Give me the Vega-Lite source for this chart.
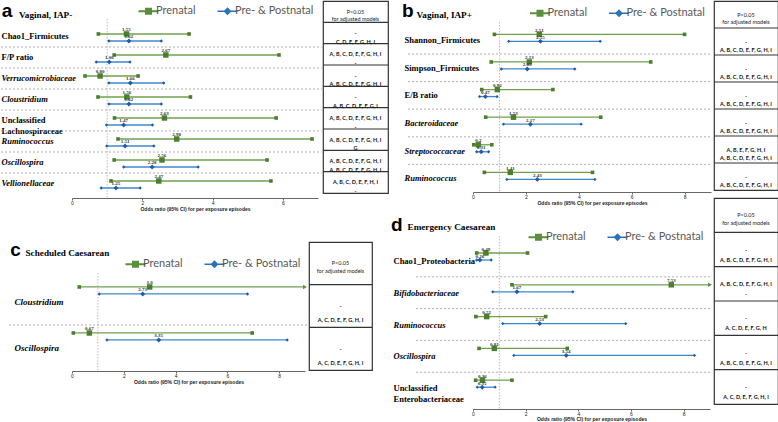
{
"$schema": "https://vega.github.io/schema/vega-lite/v6.json",
"padding": {"left": 0, "top": 0, "right": 0, "bottom": 0},
"config": {
  "view": {"stroke": null},
  "axisX": {"format": "~g", "labelFont": "Liberation Sans", "labelFontSize": 5, "labelColor": "#222", "labelPadding": 0, "labelOverlap": false, "labelFlush": false, "tickSize": 2, "tickColor": "#666", "domainColor": "#666", "grid": false, "titleFont": "Liberation Sans", "titleFontSize": 5, "titleFontWeight": "bold", "titleColor": "#222", "titlePadding": 1.5},
  "axisY": {"domain": false, "ticks": false, "tickSize": 0, "grid": false, "labelAlign": "left", "labelBaseline": "middle", "labelFont": "Liberation Serif", "labelFontSize": 8.5, "labelFontWeight": "bold", "labelColor": "#000", "labelLineHeight": 11, "labelLimit": 200, "titleAngle": 0, "titleAlign": "left", "titleBaseline": "alphabetic", "titleFont": "Liberation Serif", "titleFontSize": 9.2, "titleFontWeight": "bold", "titleColor": "#000"},
  "legend": {"orient": "none", "direction": "horizontal", "symbolSize": 100, "symbolOpacity": 1, "symbolStrokeWidth": 0, "labelFont": "Lato", "labelFontSize": 11, "labelColor": "#595959", "labelOffset": 2, "columnPadding": 21, "padding": 0}
},
"datasets": {
  "a": [
    {"cat": "Chao1_Firmicutes", "series": "Prenatal", "low": 0.75, "est": 1.55, "high": 3.33, "lab": "1.55"},
    {"cat": "Chao1_Firmicutes", "series": "Pre- & Postnatal", "low": 1.05, "est": 1.62, "high": 2.54, "lab": "1.62"},
    {"cat": "F/P ratio", "series": "Prenatal", "low": 1.2, "est": 2.67, "high": 5.89, "lab": "2.67"},
    {"cat": "F/P ratio", "series": "Pre- & Postnatal", "low": 0.69, "est": 1.06, "high": 1.65, "lab": "1.06"},
    {"cat": "Verrucomicrobiaceae", "series": "Prenatal", "low": 0.37, "est": 0.8, "high": 1.88, "lab": "0.80"},
    {"cat": "Verrucomicrobiaceae", "series": "Pre- & Postnatal", "low": 1.05, "est": 1.66, "high": 2.61, "lab": "1.66"},
    {"cat": "Cloustridium", "series": "Prenatal", "low": 0.74, "est": 1.56, "high": 3.37, "lab": "1.56"},
    {"cat": "Cloustridium", "series": "Pre- & Postnatal", "low": 1.05, "est": 1.62, "high": 2.54, "lab": "1.62"},
    {"cat": "Unclassified|Lachnospiraceae", "series": "Prenatal", "low": 1.21, "est": 2.63, "high": 5.81, "lab": "2.63"},
    {"cat": "Unclassified|Lachnospiraceae", "series": "Pre- & Postnatal", "low": 0.98, "est": 1.47, "high": 2.29, "lab": "1.47"},
    {"cat": "Ruminococcus", "series": "Prenatal", "low": 1.31, "est": 2.98, "high": 6.83, "lab": "2.98"},
    {"cat": "Ruminococcus", "series": "Pre- & Postnatal", "low": 0.99, "est": 1.51, "high": 2.33, "lab": "1.51"},
    {"cat": "Oscillospira", "series": "Prenatal", "low": 1.2, "est": 2.56, "high": 5.55, "lab": "2.56"},
    {"cat": "Oscillospira", "series": "Pre- & Postnatal", "low": 1.47, "est": 2.28, "high": 3.59, "lab": "2.28"},
    {"cat": "Vellionellaceae", "series": "Prenatal", "low": 1.11, "est": 2.47, "high": 5.66, "lab": "2.47"},
    {"cat": "Vellionellaceae", "series": "Pre- & Postnatal", "low": 0.83, "est": 1.25, "high": 1.94, "lab": "1.25"}
  ],
  "b": [
    {"cat": "Shannon_Firmicutes", "series": "Prenatal", "low": 0.81, "est": 2.51, "high": 8.0, "lab": "2.51"},
    {"cat": "Shannon_Firmicutes", "series": "Pre- & Postnatal", "low": 1.35, "est": 2.55, "high": 4.81, "lab": "2.55"},
    {"cat": "Simpson_Firmicutes", "series": "Prenatal", "low": 0.69, "est": 2.13, "high": 6.72, "lab": "2.13"},
    {"cat": "Simpson_Firmicutes", "series": "Pre- & Postnatal", "low": 1.07, "est": 2.05, "high": 3.85, "lab": "2.05"},
    {"cat": "E/B ratio", "series": "Prenatal", "low": 0.33, "est": 0.92, "high": 3.02, "lab": "0.92"},
    {"cat": "E/B ratio", "series": "Pre- & Postnatal", "low": 0.25, "est": 0.47, "high": 0.91, "lab": "0.47"},
    {"cat": "Bacteroidaceae", "series": "Prenatal", "low": 0.48, "est": 1.53, "high": 4.83, "lab": "1.53"},
    {"cat": "Bacteroidaceae", "series": "Pre- & Postnatal", "low": 1.15, "est": 2.17, "high": 4.09, "lab": "2.17"},
    {"cat": "Streptococcaceae", "series": "Prenatal", "low": 0.03, "est": 0.2, "high": 0.71, "lab": "0.2"},
    {"cat": "Streptococcaceae", "series": "Pre- & Postnatal", "low": 0.14, "est": 0.31, "high": 0.59, "lab": "0.31"},
    {"cat": "Ruminococcus", "series": "Prenatal", "low": 0.43, "est": 1.41, "high": 4.52, "lab": "1.41"},
    {"cat": "Ruminococcus", "series": "Pre- & Postnatal", "low": 1.28, "est": 2.43, "high": 4.61, "lab": "2.43"}
  ],
  "c": [
    {"cat": "Cloustridium", "series": "Prenatal", "low": 0.28, "est": 3.0, "high": 9.0, "lab": "3.0", "arrow": true},
    {"cat": "Cloustridium", "series": "Pre- & Postnatal", "low": 1.05, "est": 2.73, "high": 6.78, "lab": "2.73"},
    {"cat": "Oscillospira", "series": "Prenatal", "low": 0.05, "est": 0.67, "high": 6.96, "lab": "0.67"},
    {"cat": "Oscillospira", "series": "Pre- & Postnatal", "low": 1.35, "est": 3.35, "high": 8.31, "lab": "3.35"}
  ],
  "d": [
    {"cat": "Chao1_Proteobacteria", "series": "Prenatal", "low": 0.14, "est": 0.49, "high": 2.07, "lab": "0.49"},
    {"cat": "Chao1_Proteobacteria", "series": "Pre- & Postnatal", "low": 0.14, "est": 0.26, "high": 0.69, "lab": "0.26"},
    {"cat": "Bifidobacteriaceae", "series": "Prenatal", "low": 1.48, "est": 7.53, "high": 9.0, "lab": "7.53", "arrow": true},
    {"cat": "Bifidobacteriaceae", "series": "Pre- & Postnatal", "low": 0.75, "est": 1.67, "high": 3.79, "lab": "1.67"},
    {"cat": "Ruminococcus", "series": "Prenatal", "low": 0.11, "est": 0.52, "high": 2.76, "lab": "0.52"},
    {"cat": "Ruminococcus", "series": "Pre- & Postnatal", "low": 1.13, "est": 2.53, "high": 5.8, "lab": "2.53"},
    {"cat": "Oscillospira", "series": "Prenatal", "low": 0.23, "est": 0.81, "high": 3.58, "lab": "0.81"},
    {"cat": "Oscillospira", "series": "Pre- & Postnatal", "low": 1.55, "est": 3.54, "high": 8.41, "lab": "3.54"},
    {"cat": "Unclassified|Enterobacteriaceae", "series": "Prenatal", "low": 0.1, "est": 0.36, "high": 1.48, "lab": "0.36"},
    {"cat": "Unclassified|Enterobacteriaceae", "series": "Pre- & Postnatal", "low": 0.16, "est": 0.35, "high": 0.84, "lab": "0.35"}
  ],
  "ta": [
    {"r": "H", "txt": "P<0.05|for adjusted models"},
    {"r": "Chao1_Firmicutes", "txt": "-|C, D, E, F, G, H, I"},
    {"r": "F/P ratio", "txt": "A, B, C, D, E, F, G, H, I|-"},
    {"r": "Verrucomicrobiaceae", "txt": "-|A, B, C, D, E, F, G, H, I"},
    {"r": "Cloustridium", "txt": "-|A, B, C, D, E, F, G, I"},
    {"r": "Unclassified|Lachnospiraceae", "txt": "A, B, C, D, E, F, G, H, I|-"},
    {"r": "Ruminococcus", "txt": "A, B, C, D, E, F, G, H, I|G"},
    {"r": "Oscillospira", "txt": "A, B, C, D, E, F, G, H, I|A, B, C, D, E, F, G, H, I"},
    {"r": "Vellionellaceae", "txt": "A, B, C, D, E, F, H, I|-"}
  ],
  "tb": [
    {"r": "H", "txt": "P<0.05|for adjusted models"},
    {"r": "Shannon_Firmicutes", "txt": "-|A, B, C, D, E, F, G, H, I"},
    {"r": "Simpson_Firmicutes", "txt": "-|A, B, C, D, E, F, G, H, I"},
    {"r": "E/B ratio", "txt": "-|A, B, C, D, E, F, G, H, I"},
    {"r": "Bacteroidaceae", "txt": "-|A, B, C, D, E, F, G, H, I"},
    {"r": "Streptococcaceae", "txt": "A, B, E, F, G, H, I|A, B, C, D, E, F, G, H, I"},
    {"r": "Ruminococcus", "txt": "-|A, B, C, D, E, F, G, H, I"}
  ],
  "tc": [
    {"r": "H", "txt": "P<0.05|for adjusted models"},
    {"r": "Cloustridium", "txt": "-|A, C, D, E, F, G, H, I"},
    {"r": "Oscillospira", "txt": "-|A, C, D, E, F, G, H, I"}
  ],
  "td": [
    {"r": "H", "txt": "P<0.05|for adjusted models"},
    {"r": "Chao1_Proteobacteria", "txt": "-|A, B, C, D, E, F, G, H, I"},
    {"r": "Bifidobacteriaceae", "txt": "A, B, C, D, E, F, G, H, I|-"},
    {"r": "Ruminococcus", "txt": "-|A, C, D, E, F, G, H"},
    {"r": "Oscillospira", "txt": "-|A, B, C, D, E, F, G, H, I"},
    {"r": "Unclassified|Enterobacteriaceae", "txt": "-|A, C, D, E, F, G, H, I"}
  ]
},
"spacing": 0,
"hconcat": [
 {"spacing": 28, "vconcat": [
  {"spacing": 5, "bounds": "flush", "hconcat": [
   {"width": 246, "height": 197, "data": {"name": "a"},
    "resolve": {"scale": {"color": "independent", "shape": "independent", "size": "independent"}},
    "layer": [
     {"data": {"values": [{"c1": "Chao1_Firmicutes", "t": "a"}]}, "mark": {"type": "text", "align": "left", "baseline": "alphabetic", "font": "Liberation Sans", "fontSize": 19, "fontWeight": "bold", "color": "#000"},
      "encoding": {"x": {"datum": -2.0}, "y": {"field": "c1", "type": "nominal", "bandPosition": -0.4286}, "text": {"field": "t"}}},
     {"transform": [{"filter": "datum.series == 'Prenatal' && datum.cat != 'Chao1_Firmicutes'"}],
      "mark": {"type": "rule", "strokeDash": [2, 2], "color": "#999", "strokeWidth": 0.8},
      "encoding": {"y": {"field": "cat", "type": "nominal", "bandPosition": 0}, "x": {"datum": -2.02}, "x2": {"datum": 7.11}}},
     {"data": {"values": [{"c1": "Chao1_Firmicutes", "c2": "Vellionellaceae"}]}, "mark": {"type": "rule", "strokeDash": [1.5, 1.5], "color": "#aaa", "strokeWidth": 0.8},
      "encoding": {"x": {"datum": 1}, "y": {"field": "c1", "type": "nominal", "bandPosition": -0.333}, "y2": {"field": "c2", "bandPosition": 1.19}}},
     {"mark": {"type": "rule", "strokeWidth": 1.3},
      "encoding": {
       "y": {"field": "cat", "type": "nominal", "scale": {"type": "band", "domain": ["Chao1_Firmicutes", "F/P ratio", "Verrucomicrobiaceae", "Cloustridium", "Unclassified|Lachnospiraceae", "Ruminococcus", "Oscillospira", "Vellionellaceae"], "paddingInner": 0, "paddingOuter": 0.6905, "align": 0.862},
         "axis": {"title": "Vaginal, IAP-", "titleX": -53.5, "titleY": 16, "labelPadding": 71, "labelExpr": "split(datum.value, '|')", "labelFontStyle": {"condition": {"test": "indexof(['Verrucomicrobiaceae','Cloustridium','Ruminococcus','Oscillospira','Vellionellaceae'], datum.value) >= 0", "value": "italic"}, "value": "normal"}}},
       "yOffset": {"field": "series", "type": "nominal", "scale": {"type": "band", "domain": ["Prenatal", "Pre- & Postnatal"], "paddingInner": 0, "paddingOuter": 0.5, "align": 0.64}},
       "x": {"field": "low", "type": "quantitative", "scale": {"domain": [0, 7], "nice": false, "zero": false},
         "axis": {"values": [0, 0.5, 1, 1.5, 2, 2.5, 3, 3.5, 4, 4.5, 5, 5.5, 6, 6.5, 7], "title": "Odds ratio (95% CI) for per exposure episodes"}},
       "x2": {"field": "high"},
       "color": {"field": "series", "type": "nominal", "scale": {"domain": ["Prenatal", "Pre- & Postnatal"], "range": ["#70a04e", "#3f87cc"]}, "legend": null}}},
     {"transform": [{"fold": ["low", "high"], "as": ["k", "v"]}, {"filter": "!(datum.arrow && datum.k == 'high')"}],
      "mark": {"type": "point", "filled": true, "opacity": 1},
      "encoding": {"y": {"field": "cat", "type": "nominal"}, "yOffset": {"field": "series", "type": "nominal"}, "x": {"field": "v", "type": "quantitative"},
       "shape": {"field": "series", "type": "nominal", "scale": {"domain": ["Prenatal", "Pre- & Postnatal"], "range": ["square", "diamond"]}, "legend": null},
       "color": {"field": "series", "type": "nominal", "scale": {"domain": ["Prenatal", "Pre- & Postnatal"], "range": ["#4b7f2c", "#1e5ca8"]}, "legend": null},
       "size": {"field": "series", "type": "nominal", "scale": {"domain": ["Prenatal", "Pre- & Postnatal"], "range": [13, 11]}, "legend": null}}},
     {"mark": {"type": "point", "filled": true, "opacity": 1},
      "encoding": {"y": {"field": "cat", "type": "nominal"}, "yOffset": {"field": "series", "type": "nominal"}, "x": {"field": "est", "type": "quantitative"},
       "shape": {"field": "series", "type": "nominal", "scale": {"domain": ["Prenatal", "Pre- & Postnatal"], "range": ["square", "diamond"]}, "legend": null},
       "color": {"field": "series", "type": "nominal", "scale": {"domain": ["Prenatal", "Pre- & Postnatal"], "range": ["#4b7f2c", "#1e5ca8"]}, "legend": null},
       "size": {"field": "series", "type": "nominal", "scale": {"domain": ["Prenatal", "Pre- & Postnatal"], "range": [30, 24]}, "legend": null}}},
     {"mark": {"type": "text", "font": "Liberation Serif", "fontSize": 5, "fontWeight": "bold", "dy": -4.5, "color": "#333"},
      "encoding": {"y": {"field": "cat", "type": "nominal"}, "yOffset": {"field": "series", "type": "nominal"}, "x": {"field": "est", "type": "quantitative"}, "text": {"field": "lab"}}},
     {"mark": {"type": "point", "filled": true, "opacity": 0},
      "encoding": {"y": {"field": "cat", "type": "nominal"}, "yOffset": {"field": "series", "type": "nominal"}, "x": {"field": "est", "type": "quantitative"},
       "color": {"field": "series", "type": "nominal", "scale": {"domain": ["Prenatal", "Pre- & Postnatal"], "range": ["#5b8f3b", "#2c72bb"]}, "legend": {"title": null, "legendX": 71, "legendY": 4.5}},
       "shape": {"field": "series", "type": "nominal", "scale": {"domain": ["Prenatal", "Pre- & Postnatal"], "range": ["M-2,-0.2H2V0.2H-2Z M-0.7,-0.7H0.7V0.7H-0.7Z", "M-2,-0.16H2V0.16H-2Z M0,-0.8L0.8,0L0,0.8L-0.8,0Z"]}, "legend": {"title": null, "legendX": 71, "legendY": 4.5}}}}
    ]},
   {"width": 65, "height": 192, "data": {"name": "ta"}, "view": {"stroke": "#333", "strokeWidth": 1.2},
    "layer": [
     {"transform": [{"filter": "datum.r != 'H'"}], "mark": {"type": "rule", "color": "#333", "strokeWidth": 1.2},
      "encoding": {"y": {"field": "r", "type": "nominal", "bandPosition": 0, "scale": {"type": "band", "domain": ["H", "Chao1_Firmicutes", "F/P ratio", "Verrucomicrobiaceae", "Cloustridium", "Unclassified|Lachnospiraceae", "Ruminococcus", "Oscillospira", "Vellionellaceae"], "paddingInner": 0, "paddingOuter": 0}, "axis": null}}},
     {"transform": [{"filter": "datum.r == 'H'"}], "mark": {"type": "text", "lineBreak": "|", "font": "Lato", "fontSize": 5.5, "lineHeight": 7.5, "color": "#222"},
      "encoding": {"y": {"field": "r", "type": "nominal", "axis": null}, "text": {"field": "txt"}}},
     {"transform": [{"filter": "datum.r != 'H'"}], "mark": {"type": "text", "lineBreak": "|", "font": "Lato", "fontSize": 5.5, "fontWeight": "bold", "lineHeight": 8.5, "color": "#111"},
      "encoding": {"y": {"field": "r", "type": "nominal", "axis": null}, "text": {"field": "txt"}}}
    ]}
  ]},
  {"spacing": 4, "bounds": "flush", "hconcat": [
   {"width": 233, "height": 129, "data": {"name": "c"},
    "resolve": {"scale": {"color": "independent", "shape": "independent", "size": "independent"}},
    "layer": [
     {"data": {"values": [{"c1": "Cloustridium", "t": "c"}]}, "mark": {"type": "text", "align": "left", "baseline": "alphabetic", "font": "Liberation Sans", "fontSize": 19, "fontWeight": "bold", "color": "#000"},
      "encoding": {"x": {"datum": -2.383}, "y": {"field": "c1", "type": "nominal", "bandPosition": -0.5}, "text": {"field": "t"}}},
     {"transform": [{"filter": "datum.series == 'Prenatal' && datum.cat != 'Cloustridium'"}],
      "mark": {"type": "rule", "strokeDash": [2, 2], "color": "#999", "strokeWidth": 0.8},
      "encoding": {"y": {"field": "cat", "type": "nominal", "bandPosition": 0}, "x": {"datum": -2.433}, "x2": {"datum": 9.08}}},
     {"data": {"values": [{"c1": "Cloustridium", "c2": "Oscillospira"}]}, "mark": {"type": "rule", "strokeDash": [1.5, 1.5], "color": "#aaa", "strokeWidth": 0.8},
      "encoding": {"x": {"datum": 1}, "y": {"field": "c1", "type": "nominal", "bandPosition": -0.13}, "y2": {"field": "c2", "bandPosition": 1.0}}},
     {"mark": {"type": "rule", "strokeWidth": 1.3},
      "encoding": {
       "y": {"field": "cat", "type": "nominal", "scale": {"type": "band", "domain": ["Cloustridium", "Oscillospira"], "paddingInner": 0, "paddingOuter": 0.402, "align": 1},
         "axis": {"title": "Scheduled Caesarean", "titleX": -47, "titleY": 13, "labelPadding": 58, "labelFontSize": 9, "labelExpr": "split(datum.value, '|')", "labelFontStyle": "italic"}},
       "yOffset": {"field": "series", "type": "nominal", "scale": {"type": "band", "domain": ["Prenatal", "Pre- & Postnatal"], "paddingInner": 0, "paddingOuter": 0.533, "align": 0.406}},
       "x": {"field": "low", "type": "quantitative", "scale": {"domain": [0, 9], "nice": false, "zero": false},
         "axis": {"values": [0, 0.5, 1, 1.5, 2, 2.5, 3, 3.5, 4, 4.5, 5, 5.5, 6, 6.5, 7, 7.5, 8, 8.5, 9], "title": "Odds ratio (95% CI) for per exposure episodes"}},
       "x2": {"field": "high"},
       "color": {"field": "series", "type": "nominal", "scale": {"domain": ["Prenatal", "Pre- & Postnatal"], "range": ["#70a04e", "#3f87cc"]}, "legend": null}}},
     {"transform": [{"fold": ["low", "high"], "as": ["k", "v"]}, {"filter": "!(datum.arrow && datum.k == 'high')"}],
      "mark": {"type": "point", "filled": true, "opacity": 1},
      "encoding": {"y": {"field": "cat", "type": "nominal"}, "yOffset": {"field": "series", "type": "nominal"}, "x": {"field": "v", "type": "quantitative"},
       "shape": {"field": "series", "type": "nominal", "scale": {"domain": ["Prenatal", "Pre- & Postnatal"], "range": ["square", "diamond"]}, "legend": null},
       "color": {"field": "series", "type": "nominal", "scale": {"domain": ["Prenatal", "Pre- & Postnatal"], "range": ["#4b7f2c", "#1e5ca8"]}, "legend": null},
       "size": {"field": "series", "type": "nominal", "scale": {"domain": ["Prenatal", "Pre- & Postnatal"], "range": [13, 11]}, "legend": null}}},
     {"transform": [{"filter": "datum.arrow"}],
      "mark": {"type": "point", "shape": "triangle-right", "filled": true, "size": 20, "opacity": 1, "color": "#5e8f3e"},
      "encoding": {"y": {"field": "cat", "type": "nominal"}, "yOffset": {"field": "series", "type": "nominal"}, "x": {"field": "high", "type": "quantitative"}}},
     {"mark": {"type": "point", "filled": true, "opacity": 1},
      "encoding": {"y": {"field": "cat", "type": "nominal"}, "yOffset": {"field": "series", "type": "nominal"}, "x": {"field": "est", "type": "quantitative"},
       "shape": {"field": "series", "type": "nominal", "scale": {"domain": ["Prenatal", "Pre- & Postnatal"], "range": ["square", "diamond"]}, "legend": null},
       "color": {"field": "series", "type": "nominal", "scale": {"domain": ["Prenatal", "Pre- & Postnatal"], "range": ["#4b7f2c", "#1e5ca8"]}, "legend": null},
       "size": {"field": "series", "type": "nominal", "scale": {"domain": ["Prenatal", "Pre- & Postnatal"], "range": [30, 24]}, "legend": null}}},
     {"mark": {"type": "text", "font": "Liberation Serif", "fontSize": 5, "fontWeight": "bold", "dy": -4.5, "color": "#333"},
      "encoding": {"y": {"field": "cat", "type": "nominal"}, "yOffset": {"field": "series", "type": "nominal"}, "x": {"field": "est", "type": "quantitative"}, "text": {"field": "lab"}}},
     {"mark": {"type": "point", "filled": true, "opacity": 0},
      "encoding": {"y": {"field": "cat", "type": "nominal"}, "yOffset": {"field": "series", "type": "nominal"}, "x": {"field": "est", "type": "quantitative"},
       "color": {"field": "series", "type": "nominal", "scale": {"domain": ["Prenatal", "Pre- & Postnatal"], "range": ["#5b8f3b", "#2c72bb"]}, "legend": {"title": null, "legendX": 58, "legendY": 16.5}},
       "shape": {"field": "series", "type": "nominal", "scale": {"domain": ["Prenatal", "Pre- & Postnatal"], "range": ["M-2,-0.2H2V0.2H-2Z M-0.7,-0.7H0.7V0.7H-0.7Z", "M-2,-0.16H2V0.16H-2Z M0,-0.8L0.8,0L0,0.8L-0.8,0Z"]}, "legend": {"title": null, "legendX": 58, "legendY": 16.5}}}}
    ]},
   {"width": 63, "height": 128, "data": {"name": "tc"}, "view": {"stroke": "#333", "strokeWidth": 1.2},
    "layer": [
     {"transform": [{"filter": "datum.r != 'H'"}], "mark": {"type": "rule", "color": "#333", "strokeWidth": 1.2},
      "encoding": {"y": {"field": "r", "type": "nominal", "bandPosition": 0, "scale": {"type": "band", "domain": ["H", "Cloustridium", "Oscillospira"], "paddingInner": 0, "paddingOuter": 0}, "axis": null}}},
     {"transform": [{"filter": "datum.r == 'H'"}], "mark": {"type": "text", "lineBreak": "|", "font": "Lato", "fontSize": 5.5, "lineHeight": 7.5, "color": "#222"},
      "encoding": {"y": {"field": "r", "type": "nominal", "axis": null}, "text": {"field": "txt"}}},
     {"transform": [{"filter": "datum.r != 'H'"}], "mark": {"type": "text", "lineBreak": "|", "font": "Lato", "fontSize": 5.5, "fontWeight": "bold", "lineHeight": 14, "color": "#111"},
      "encoding": {"y": {"field": "r", "type": "nominal", "axis": null}, "text": {"field": "txt"}}}
    ]}
  ]}
 ]},
 {"spacing": 0, "hconcat": [
  {"spacing": 6, "bounds": "flush", "vconcat": [
   {"width": 238, "height": 191, "data": {"name": "b"},
    "resolve": {"scale": {"color": "independent", "shape": "independent", "size": "independent"}},
    "layer": [
     {"data": {"values": [{}]}, "mark": {"type": "rule", "opacity": 0}, "encoding": {"x": {"datum": -3.1}, "x2": {"datum": -3.0}}},
     {"data": {"values": [{"c1": "Shannon_Firmicutes", "t": "b"}]}, "mark": {"type": "text", "align": "left", "baseline": "alphabetic", "font": "Liberation Sans", "fontSize": 19, "fontWeight": "bold", "color": "#000"},
      "encoding": {"x": {"datum": -2.685}, "y": {"field": "c1", "type": "nominal", "bandPosition": -0.3406}, "text": {"field": "t"}}},
     {"transform": [{"filter": "datum.series == 'Prenatal' && datum.cat != 'Shannon_Firmicutes'"}],
      "mark": {"type": "rule", "strokeDash": [2, 2], "color": "#999", "strokeWidth": 0.8},
      "encoding": {"y": {"field": "cat", "type": "nominal", "bandPosition": 0}, "x": {"datum": -2.46}, "x2": {"datum": 9.02}}},
     {"data": {"values": [{"c1": "Shannon_Firmicutes", "c2": "Ruminococcus"}]}, "mark": {"type": "rule", "strokeDash": [1.5, 1.5], "color": "#aaa", "strokeWidth": 0.8},
      "encoding": {"x": {"datum": 1}, "y": {"field": "c1", "type": "nominal", "bandPosition": -0.16}, "y2": {"field": "c2", "bandPosition": 1.0}}},
     {"mark": {"type": "rule", "strokeWidth": 1.3},
      "encoding": {
       "y": {"field": "cat", "type": "nominal", "scale": {"type": "band", "domain": ["Shannon_Firmicutes", "Simpson_Firmicutes", "E/B ratio", "Bacteroidaceae", "Streptococcaceae", "Ruminococcus"], "paddingInner": 0, "paddingOuter": 0.46, "align": 1},
         "axis": {"title": "Vaginal, IAP+", "titleX": -57, "titleY": 16, "labelPadding": 69, "labelExpr": "split(datum.value, '|')", "labelFontStyle": {"condition": {"test": "indexof(['Bacteroidaceae','Streptococcaceae','Ruminococcus'], datum.value) >= 0", "value": "italic"}, "value": "normal"}}},
       "yOffset": {"field": "series", "type": "nominal", "scale": {"type": "band", "domain": ["Prenatal", "Pre- & Postnatal"], "paddingInner": 0, "paddingOuter": 0.533, "align": 0.365}},
       "x": {"field": "low", "type": "quantitative", "scale": {"domain": [0, 9], "nice": false, "zero": false},
         "axis": {"values": [0, 0.5, 1, 1.5, 2, 2.5, 3, 3.5, 4, 4.5, 5, 5.5, 6, 6.5, 7, 7.5, 8, 8.5, 9], "title": "Odds ratio (95% CI) for per exposure episodes"}},
       "x2": {"field": "high"},
       "color": {"field": "series", "type": "nominal", "scale": {"domain": ["Prenatal", "Pre- & Postnatal"], "range": ["#70a04e", "#3f87cc"]}, "legend": null}}},
     {"transform": [{"fold": ["low", "high"], "as": ["k", "v"]}, {"filter": "!(datum.arrow && datum.k == 'high')"}],
      "mark": {"type": "point", "filled": true, "opacity": 1},
      "encoding": {"y": {"field": "cat", "type": "nominal"}, "yOffset": {"field": "series", "type": "nominal"}, "x": {"field": "v", "type": "quantitative"},
       "shape": {"field": "series", "type": "nominal", "scale": {"domain": ["Prenatal", "Pre- & Postnatal"], "range": ["square", "diamond"]}, "legend": null},
       "color": {"field": "series", "type": "nominal", "scale": {"domain": ["Prenatal", "Pre- & Postnatal"], "range": ["#4b7f2c", "#1e5ca8"]}, "legend": null},
       "size": {"field": "series", "type": "nominal", "scale": {"domain": ["Prenatal", "Pre- & Postnatal"], "range": [13, 11]}, "legend": null}}},
     {"mark": {"type": "point", "filled": true, "opacity": 1},
      "encoding": {"y": {"field": "cat", "type": "nominal"}, "yOffset": {"field": "series", "type": "nominal"}, "x": {"field": "est", "type": "quantitative"},
       "shape": {"field": "series", "type": "nominal", "scale": {"domain": ["Prenatal", "Pre- & Postnatal"], "range": ["square", "diamond"]}, "legend": null},
       "color": {"field": "series", "type": "nominal", "scale": {"domain": ["Prenatal", "Pre- & Postnatal"], "range": ["#4b7f2c", "#1e5ca8"]}, "legend": null},
       "size": {"field": "series", "type": "nominal", "scale": {"domain": ["Prenatal", "Pre- & Postnatal"], "range": [30, 24]}, "legend": null}}},
     {"mark": {"type": "text", "font": "Liberation Serif", "fontSize": 5, "fontWeight": "bold", "dy": -4.5, "color": "#333"},
      "encoding": {"y": {"field": "cat", "type": "nominal"}, "yOffset": {"field": "series", "type": "nominal"}, "x": {"field": "est", "type": "quantitative"}, "text": {"field": "lab"}}},
     {"mark": {"type": "point", "filled": true, "opacity": 0},
      "encoding": {"y": {"field": "cat", "type": "nominal"}, "yOffset": {"field": "series", "type": "nominal"}, "x": {"field": "est", "type": "quantitative"},
       "color": {"field": "series", "type": "nominal", "scale": {"domain": ["Prenatal", "Pre- & Postnatal"], "range": ["#5b8f3b", "#2c72bb"]}, "legend": {"title": null, "legendX": 61.5, "legendY": 6.5}},
       "shape": {"field": "series", "type": "nominal", "scale": {"domain": ["Prenatal", "Pre- & Postnatal"], "range": ["M-2,-0.2H2V0.2H-2Z M-0.7,-0.7H0.7V0.7H-0.7Z", "M-2,-0.16H2V0.16H-2Z M0,-0.8L0.8,0L0,0.8L-0.8,0Z"]}, "legend": {"title": null, "legendX": 61.5, "legendY": 6.5}}}}
    ]},
   {"width": 237, "height": 211, "data": {"name": "d"},
    "resolve": {"scale": {"color": "independent", "shape": "independent", "size": "independent"}},
    "layer": [
     {"data": {"values": [{}]}, "mark": {"type": "rule", "opacity": 0}, "encoding": {"x": {"datum": -3.114}, "x2": {"datum": -3.0}}},
     {"data": {"values": [{"c1": "Chao1_Proteobacteria", "t": "d"}]}, "mark": {"type": "text", "align": "left", "baseline": "alphabetic", "font": "Liberation Sans", "fontSize": 19, "fontWeight": "bold", "color": "#000"},
      "encoding": {"x": {"datum": -3.114}, "y": {"field": "c1", "type": "nominal", "bandPosition": -0.44}, "text": {"field": "t"}}},
     {"transform": [{"filter": "datum.series == 'Prenatal' && datum.cat != 'Chao1_Proteobacteria'"}],
      "mark": {"type": "rule", "strokeDash": [2, 2], "color": "#999", "strokeWidth": 0.8},
      "encoding": {"y": {"field": "cat", "type": "nominal", "bandPosition": 0}, "x": {"datum": -2.16}, "x2": {"datum": 9.04}}},
     {"data": {"values": [{"c1": "Chao1_Proteobacteria", "c2": "Unclassified|Enterobacteriaceae"}]}, "mark": {"type": "rule", "strokeDash": [1.5, 1.5], "color": "#aaa", "strokeWidth": 0.8},
      "encoding": {"x": {"datum": 1}, "y": {"field": "c1", "type": "nominal", "bandPosition": -0.283}, "y2": {"field": "c2", "bandPosition": 1.157}}},
     {"mark": {"type": "rule", "strokeWidth": 1.3},
      "encoding": {
       "y": {"field": "cat", "type": "nominal", "scale": {"type": "band", "domain": ["Chao1_Proteobacteria", "Bifidobacteriaceae", "Ruminococcus", "Oscillospira", "Unclassified|Enterobacteriaceae"], "paddingInner": 0, "paddingOuter": 0.818, "align": 0.904},
         "axis": {"title": "Emergency Caesarean", "titleX": -66, "titleY": 31, "labelPadding": 80, "labelExpr": "split(datum.value, '|')", "labelFontStyle": {"condition": {"test": "indexof(['Bifidobacteriaceae','Ruminococcus','Oscillospira'], datum.value) >= 0", "value": "italic"}, "value": "normal"}}},
       "yOffset": {"field": "series", "type": "nominal", "scale": {"type": "band", "domain": ["Prenatal", "Pre- & Postnatal"], "paddingInner": 0, "paddingOuter": 0.59, "align": 0.59}},
       "x": {"field": "low", "type": "quantitative", "scale": {"domain": [0, 9], "nice": false, "zero": false},
         "axis": {"values": [0, 0.5, 1, 1.5, 2, 2.5, 3, 3.5, 4, 4.5, 5, 5.5, 6, 6.5, 7, 7.5, 8, 8.5, 9], "title": "Odds ratio (95% CI) for per exposure episodes", "titlePadding": 0.5}},
       "x2": {"field": "high"},
       "color": {"field": "series", "type": "nominal", "scale": {"domain": ["Prenatal", "Pre- & Postnatal"], "range": ["#70a04e", "#3f87cc"]}, "legend": null}}},
     {"transform": [{"fold": ["low", "high"], "as": ["k", "v"]}, {"filter": "!(datum.arrow && datum.k == 'high')"}],
      "mark": {"type": "point", "filled": true, "opacity": 1},
      "encoding": {"y": {"field": "cat", "type": "nominal"}, "yOffset": {"field": "series", "type": "nominal"}, "x": {"field": "v", "type": "quantitative"},
       "shape": {"field": "series", "type": "nominal", "scale": {"domain": ["Prenatal", "Pre- & Postnatal"], "range": ["square", "diamond"]}, "legend": null},
       "color": {"field": "series", "type": "nominal", "scale": {"domain": ["Prenatal", "Pre- & Postnatal"], "range": ["#4b7f2c", "#1e5ca8"]}, "legend": null},
       "size": {"field": "series", "type": "nominal", "scale": {"domain": ["Prenatal", "Pre- & Postnatal"], "range": [13, 11]}, "legend": null}}},
     {"transform": [{"filter": "datum.arrow"}],
      "mark": {"type": "point", "shape": "triangle-right", "filled": true, "size": 20, "opacity": 1, "color": "#5e8f3e"},
      "encoding": {"y": {"field": "cat", "type": "nominal"}, "yOffset": {"field": "series", "type": "nominal"}, "x": {"field": "high", "type": "quantitative"}}},
     {"mark": {"type": "point", "filled": true, "opacity": 1},
      "encoding": {"y": {"field": "cat", "type": "nominal"}, "yOffset": {"field": "series", "type": "nominal"}, "x": {"field": "est", "type": "quantitative"},
       "shape": {"field": "series", "type": "nominal", "scale": {"domain": ["Prenatal", "Pre- & Postnatal"], "range": ["square", "diamond"]}, "legend": null},
       "color": {"field": "series", "type": "nominal", "scale": {"domain": ["Prenatal", "Pre- & Postnatal"], "range": ["#4b7f2c", "#1e5ca8"]}, "legend": null},
       "size": {"field": "series", "type": "nominal", "scale": {"domain": ["Prenatal", "Pre- & Postnatal"], "range": [30, 24]}, "legend": null}}},
     {"mark": {"type": "text", "font": "Liberation Serif", "fontSize": 5, "fontWeight": "bold", "dy": -4.5, "color": "#333"},
      "encoding": {"y": {"field": "cat", "type": "nominal"}, "yOffset": {"field": "series", "type": "nominal"}, "x": {"field": "est", "type": "quantitative"}, "text": {"field": "lab"}}},
     {"mark": {"type": "point", "filled": true, "opacity": 0},
      "encoding": {"y": {"field": "cat", "type": "nominal"}, "yOffset": {"field": "series", "type": "nominal"}, "x": {"field": "est", "type": "quantitative"},
       "color": {"field": "series", "type": "nominal", "scale": {"domain": ["Prenatal", "Pre- & Postnatal"], "range": ["#5b8f3b", "#2c72bb"]}, "legend": {"title": null, "legendX": 60, "legendY": 33.5}},
       "shape": {"field": "series", "type": "nominal", "scale": {"domain": ["Prenatal", "Pre- & Postnatal"], "range": ["M-2,-0.2H2V0.2H-2Z M-0.7,-0.7H0.7V0.7H-0.7Z", "M-2,-0.16H2V0.16H-2Z M0,-0.8L0.8,0L0,0.8L-0.8,0Z"]}, "legend": {"title": null, "legendX": 60, "legendY": 33.5}}}}
    ]}
  ]},
  {"spacing": 8, "bounds": "flush", "vconcat": [
   {"width": 64, "height": 189, "data": {"name": "tb"}, "view": {"stroke": "#333", "strokeWidth": 1.2},
    "layer": [
     {"transform": [{"filter": "datum.r != 'H'"}], "mark": {"type": "rule", "color": "#333", "strokeWidth": 1.2},
      "encoding": {"y": {"field": "r", "type": "nominal", "bandPosition": 0, "scale": {"type": "band", "domain": ["H", "Shannon_Firmicutes", "Simpson_Firmicutes", "E/B ratio", "Bacteroidaceae", "Streptococcaceae", "Ruminococcus"], "paddingInner": 0, "paddingOuter": 0}, "axis": null}}},
     {"transform": [{"filter": "datum.r == 'H'"}], "mark": {"type": "text", "lineBreak": "|", "font": "Lato", "fontSize": 5.5, "lineHeight": 7.5, "color": "#222"},
      "encoding": {"y": {"field": "r", "type": "nominal", "axis": null}, "text": {"field": "txt"}}},
     {"transform": [{"filter": "datum.r != 'H'"}], "mark": {"type": "text", "lineBreak": "|", "font": "Lato", "fontSize": 5.5, "fontWeight": "bold", "lineHeight": 8, "color": "#111"},
      "encoding": {"y": {"field": "r", "type": "nominal", "axis": null}, "text": {"field": "txt"}}}
    ]},
   {"width": 64, "height": 206, "data": {"name": "td"}, "view": {"stroke": "#333", "strokeWidth": 1.2},
    "layer": [
     {"transform": [{"filter": "datum.r != 'H'"}], "mark": {"type": "rule", "color": "#333", "strokeWidth": 1.2},
      "encoding": {"y": {"field": "r", "type": "nominal", "bandPosition": 0, "scale": {"type": "band", "domain": ["H", "Chao1_Proteobacteria", "Bifidobacteriaceae", "Ruminococcus", "Oscillospira", "Unclassified|Enterobacteriaceae"], "paddingInner": 0, "paddingOuter": 0}, "axis": null}}},
     {"transform": [{"filter": "datum.r == 'H'"}], "mark": {"type": "text", "lineBreak": "|", "font": "Lato", "fontSize": 5.5, "lineHeight": 7.5, "color": "#222"},
      "encoding": {"y": {"field": "r", "type": "nominal", "axis": null}, "text": {"field": "txt"}}},
     {"transform": [{"filter": "datum.r != 'H'"}], "mark": {"type": "text", "lineBreak": "|", "font": "Lato", "fontSize": 5.5, "fontWeight": "bold", "lineHeight": 10, "color": "#111"},
      "encoding": {"y": {"field": "r", "type": "nominal", "axis": null}, "text": {"field": "txt"}}}
    ]}
  ]}
 ]}
]
}
